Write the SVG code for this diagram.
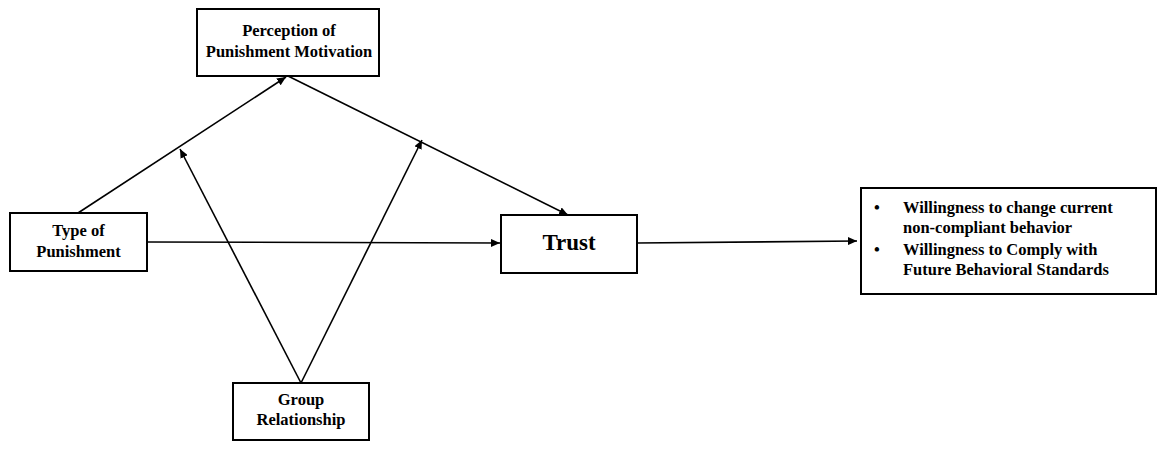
<svg xmlns="http://www.w3.org/2000/svg" width="1166" height="450" viewBox="0 0 1166 450">
<style>
.box{fill:#fff;stroke:#000;stroke-width:2}
.t{font-family:"Liberation Serif","Times New Roman",serif;font-weight:bold;font-size:16.5px;fill:#000}
.c{text-anchor:middle}
.ln{stroke:#000;stroke-width:1.6;fill:none;marker-end:url(#ah)}
</style>
<defs>
<marker id="ah" markerUnits="userSpaceOnUse" markerWidth="10" markerHeight="8" refX="9" refY="4" orient="auto">
<path d="M0,0 L9,4 L0,8 z" fill="#000"/>
</marker>
</defs>
<rect width="1166" height="450" fill="#fff"/>
<g id="connectors">
<line class="ln" x1="78" y1="213" x2="286" y2="77"/>
<line class="ln" x1="288" y1="76" x2="568" y2="215"/>
<line class="ln" x1="147" y1="242" x2="500" y2="243"/>
<line class="ln" x1="637" y1="243" x2="857" y2="241"/>
<line class="ln" x1="301" y1="383" x2="180" y2="149"/>
<line class="ln" x1="301" y1="383" x2="422" y2="140"/>
</g>
<g id="perception">
<rect class="box" x="197" y="9" width="182" height="67"/>
<text class="t c" x="289" y="36">Perception of</text>
<text class="t c" x="289" y="57">Punishment Motivation</text>
</g>
<g id="type">
<rect class="box" x="10" y="213" width="137" height="58"/>
<text class="t c" x="78.5" y="236">Type of</text>
<text class="t c" x="78.5" y="257">Punishment</text>
</g>
<g id="trust">
<rect class="box" x="501" y="215" width="136" height="58"/>
<text class="t c" x="569" y="250" style="font-size:23px">Trust</text>
</g>
<g id="outcome">
<rect class="box" x="861" y="188" width="295" height="106"/>
<text class="t" x="874" y="213">•</text>
<text class="t" x="903" y="213">Willingness to change current</text>
<text class="t" x="903" y="233">non-compliant behavior</text>
<text class="t" x="874" y="255">•</text>
<text class="t" x="903" y="255">Willingness to Comply with</text>
<text class="t" x="903" y="275">Future Behavioral Standards</text>
</g>
<g id="group">
<rect class="box" x="233" y="383" width="136" height="57"/>
<text class="t c" x="301" y="405">Group</text>
<text class="t c" x="301" y="425">Relationship</text>
</g>
</svg>
